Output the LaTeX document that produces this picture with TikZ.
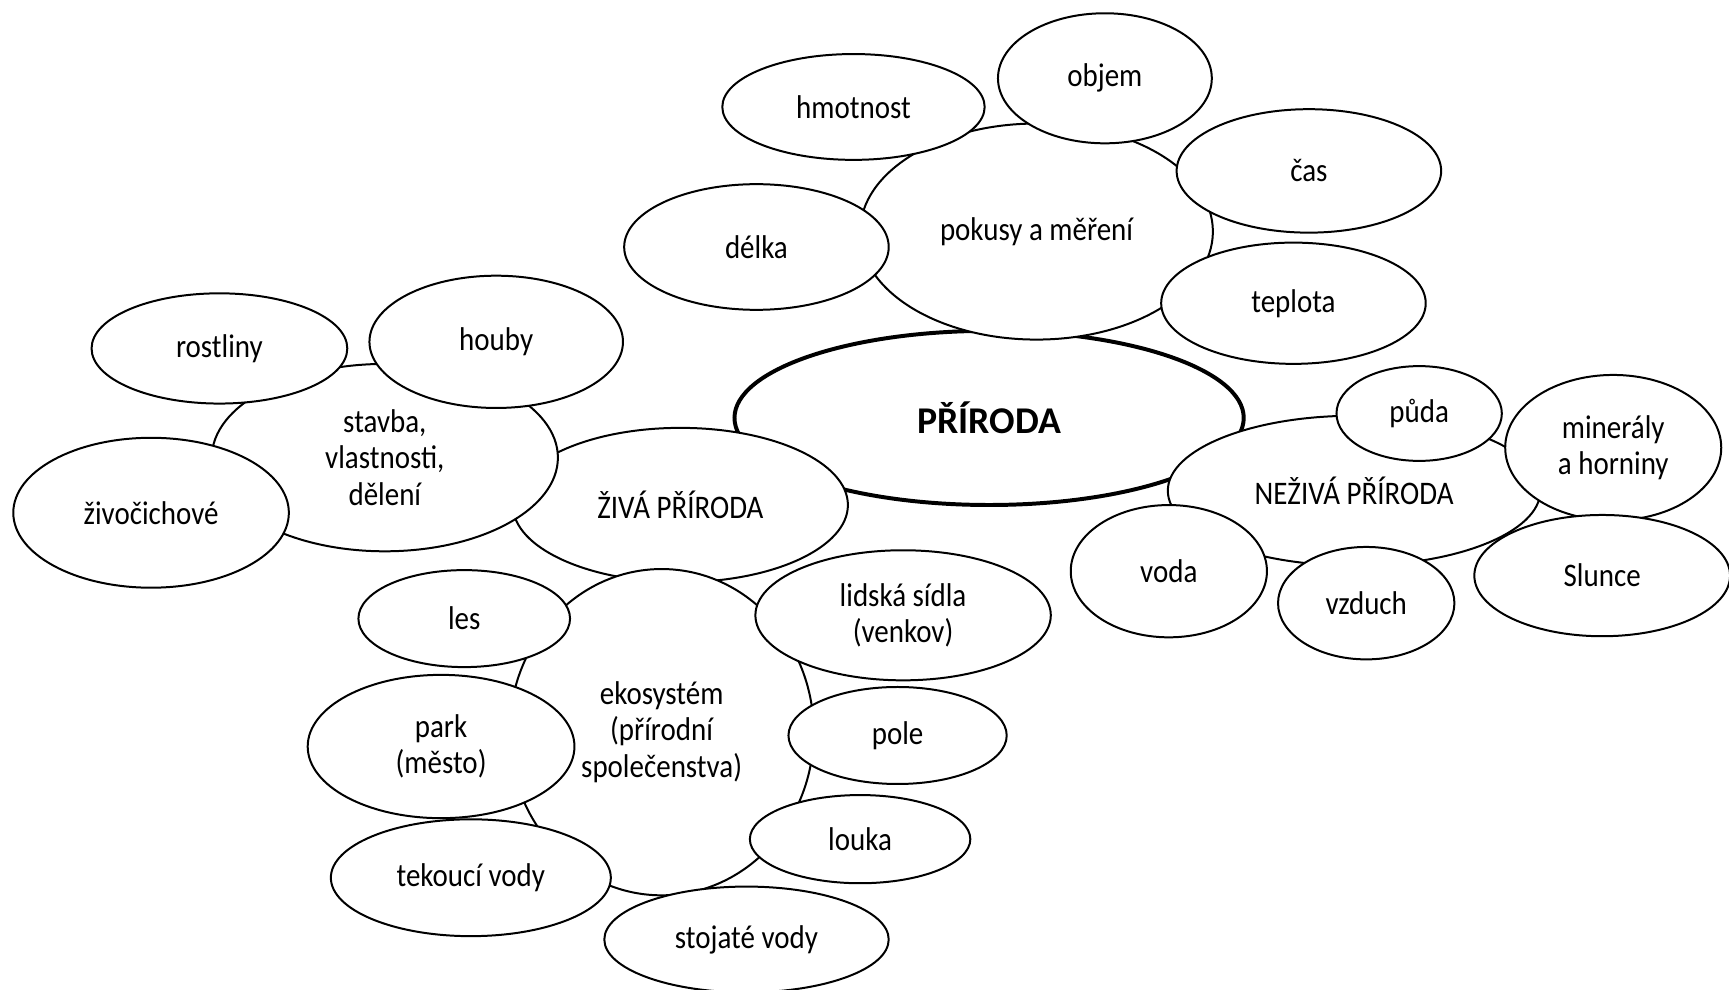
\documentclass[tikz,border=0pt]{standalone}
\usepackage{fontspec}
\setmainfont{Carlito}[FakeStretch=0.88]
\newfontfamily\plainfam{Carlito}
\usetikzlibrary{shapes.geometric}
\tikzset{
  bub/.style={ellipse, draw=black, fill=white, line width=1.03pt, inner sep=0pt, align=center,
    font=\fontsize{17}{18.7}\selectfont},
  mainbub/.style={bub, line width=2.05pt, font=\plainfam\fontsize{19.5}{22}\selectfont\bfseries},
}
\newcommand\bub[6][bub]{\node[#1, minimum width=#4*0.04cm, minimum height=#5*0.04cm] (#2) at (#3) {#6};}
\begin{document}
\begin{tikzpicture}[x=0.02cm,y=0.02cm]
\useasboundingbox (0,0) rectangle (1568,897);
\bub[mainbub]{prir}{897,518}{231}{79}{PŘÍRODA}
\bub{pok}{940,687}{160}{98}{pokusy a měření}
\bub{hmot}{774,800}{119}{48}{hmotnost}
\bub{objem}{1002,826}{97}{59}{objem}
\bub{cas}{1187,742}{120}{56}{čas}
\bub{delka}{686,673}{120}{57}{délka}
\bub{tepl}{1173,622}{120}{55}{teplota}
\bub{ziva}{617,439}{152}{70}{ŽIVÁ PŘÍRODA}
\bub{stav}{349,482}{157}{85}{stavba,\\vlastnosti,\\dělení}
\bub{rost}{199,581}{116}{50}{rostliny}
\bub{houby}{450,587}{115}{60}{houby}
\bub{zivoc}{137,432}{125}{68}{živočichové}
\bub{eko}{600,233}{138}{148}{ekosystém\\(přírodní\\společenstva)}
\bub{les}{421,336}{96}{44}{les}
\bub{lid}{819,339}{134}{59}{lidská sídla\\(venkov)}
\bub{park}{400,220}{121}{65}{park\\(město)}
\bub{pole}{814,230}{99}{44}{pole}
\bub{louka}{780,136}{100}{40}{louka}
\bub{tek}{427,101}{127}{53}{tekoucí vody}
\bub{stoj}{677,45}{129}{48}{stojaté vody}
\bub{nez}{1228,452}{169}{68}{NEŽIVÁ PŘÍRODA}
\bub{puda}{1287,522}{75}{43}{půda}
\bub{miner}{1463,491}{98}{66}{minerály\\a horniny}
\bub{voda}{1060,379}{89}{60}{voda}
\bub{vzd}{1239,350}{80}{51}{vzduch}
\bub{slun}{1453,375}{116}{55}{Slunce}
\end{tikzpicture}
\end{document}
